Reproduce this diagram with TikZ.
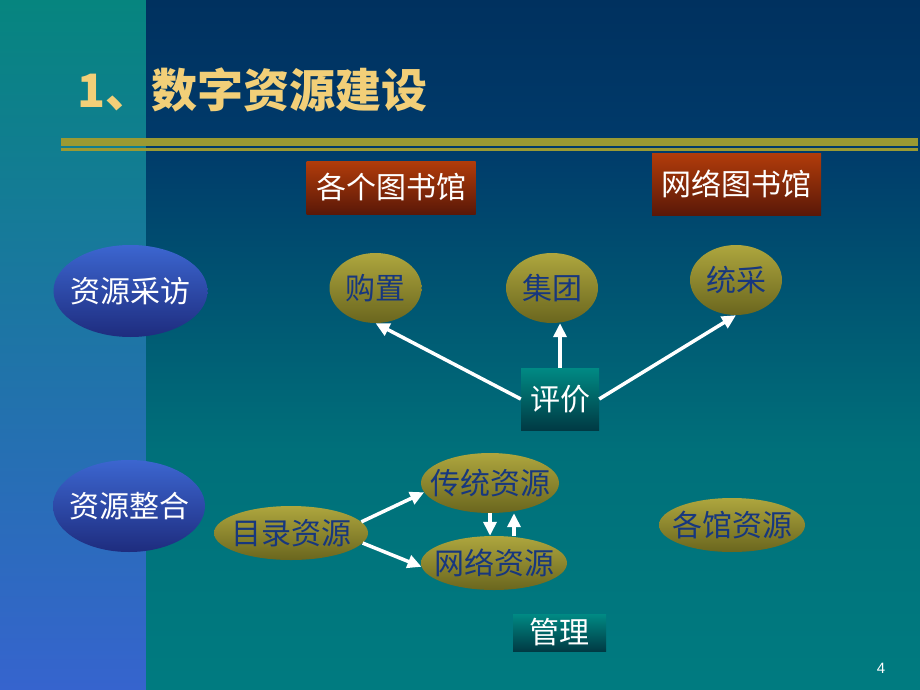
\documentclass[tikz,border=0pt]{standalone}
\usepackage{fontspec}
\newfontfamily\cjk{Noto Sans CJK SC}
\setsansfont{Liberation Sans}
\usetikzlibrary{shapes.geometric,arrows.meta,calc}
\definecolor{leftTop}{HTML}{06857F}
\definecolor{leftBot}{HTML}{3664CE}
\definecolor{mainA}{HTML}{00315F}
\definecolor{mainB}{HTML}{003A6A}
\definecolor{mainC}{HTML}{00707A}
\definecolor{mainD}{HTML}{007B80}
\definecolor{lineOl}{HTML}{9A9A33}
\definecolor{titleY}{HTML}{F2CF78}
\definecolor{olvTop}{HTML}{AEA63E}
\definecolor{olvBot}{HTML}{6A661E}
\definecolor{bluTop}{HTML}{3C66D0}
\definecolor{bluBot}{HTML}{1E2C7E}
\definecolor{redTop}{HTML}{B23C0A}
\definecolor{redBot}{HTML}{5A1808}
\definecolor{tealTop}{HTML}{008A84}
\definecolor{tealBot}{HTML}{003A44}
\definecolor{txtBlue}{HTML}{17377E}
\newcommand{\zw}[1]{\makebox[0pt][c]{#1}}
\begin{document}
\begin{tikzpicture}[x=1pt,y=-1pt,
  cjkfont/.style={font=\cjk\fontsize{30}{32}\selectfont},
  olvell/.style={ellipse, inner sep=0pt, top color=olvTop, bottom color=olvBot, text=txtBlue, cjkfont},
  bluell/.style={ellipse, inner sep=0pt, top color=bluTop, bottom color=bluBot, text=white, cjkfont},
  redbox/.style={rectangle, inner sep=0pt, top color=redTop, bottom color=redBot, text=white, cjkfont},
  tealbox/.style={rectangle, inner sep=0pt, top color=tealTop, bottom color=tealBot, text=white, cjkfont},
  arr/.style={draw=white, line width=3.5pt, -{Triangle[length=14pt,width=13pt]}},
  olline/.style={draw=lineOl}
]
\useasboundingbox (0,0) rectangle (920,690);
% backgrounds
\shade[top color=leftTop, bottom color=leftBot] (0,0) rectangle (146,690);
\shade[top color=mainA, bottom color=mainB] (146,0) rectangle (920,140);
\shade[top color=mainB, bottom color=mainC] (146,140) rectangle (920,450);
\shade[top color=mainC, bottom color=mainD] (146,450) rectangle (920,690);
% title
\node[anchor=base west, inner sep=0pt, text=titleY, font=\cjk\bfseries\fontsize{46}{50}\selectfont] (title) at (77,108) {1、数字资源建设};
% rules
\draw[olline, line width=8pt] (61,142) -- (918,142);
\draw[olline, line width=3pt] (61,149.5) -- (918,149.5);
% header boxes
\node[redbox, minimum width=169pt, minimum height=53pt] (gg) at (391,187.5) {各个图书馆};
\node[redbox, minimum width=169pt, minimum height=62pt] (wl) at (736.5,184) {网络图书馆};
% left ellipses
\node[bluell, minimum width=154pt, minimum height=92pt] (cf) at (130.5,291) {\zw{资源采访}};
\node[bluell, minimum width=152pt, minimum height=92pt] (zh) at (129,506) {\zw{资源整合}};
% top row
\node[olvell, minimum width=92pt, minimum height=70pt] (gz) at (375.5,288) {\zw{购置}};
\node[olvell, minimum width=92pt, minimum height=70pt] (jt) at (552,288) {\zw{集团}};
\node[olvell, minimum width=92pt, minimum height=70pt] (tc) at (736,280) {\zw{统采}};
\node[tealbox, minimum width=78pt, minimum height=62pt] (pj) at (560,399) {评价};
% bottom
\node[olvell, minimum width=154pt, minimum height=54pt] (ml) at (291,533) {\zw{目录资源}};
\node[olvell, minimum width=138pt, minimum height=60pt] (ct) at (490,483) {\zw{传统资源}};
\node[olvell, minimum width=146pt, minimum height=54pt] (nw) at (494,563) {\zw{网络资源}};
\node[olvell, minimum width=146pt, minimum height=54pt] (gy) at (732,525) {\zw{各馆资源}};
\node[tealbox, minimum width=93pt, minimum height=37pt] (gl) at (559.5,632.5) {管理};
% page number
\node[text=white, inner sep=0pt, font=\sffamily\fontsize{15}{17}\selectfont] (pg) at (881,668) {4};
% arrows
\draw[arr] (pj.west) -- (gz.south);
\draw[arr] (pj.north) -- (pj.north |- jt.south);
\draw[arr] (pj.east) -- (tc.south);
\draw[arr] (ml.9) -- (ct.188);
\draw[arr] (ml.-8) -- (nw.183);
\draw[arr] (ct.south) -- (ct.south |- nw.north);
\draw[arr] ([xshift=20pt]nw.north) -- ([xshift=24pt]ct.south);
\end{tikzpicture}
\end{document}
